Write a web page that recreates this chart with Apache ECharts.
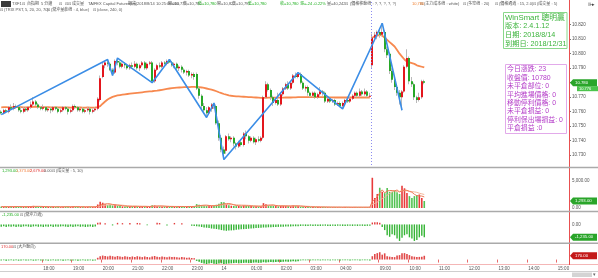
<!DOCTYPE html>
<html><head><meta charset="utf-8">
<script src="https://cdn.jsdelivr.net/npm/echarts@6/dist/echarts.min.js"></script>
<style>html,body{margin:0;padding:0;background:#fff}#c{width:598px;height:278px}</style>
</head><body><div id="c"></div><script>
// ---------------- DATA ----------------
const hourLabels = ['18:00','19:00','20:00','21:00','22:00','23:00','00:00','01:00','02:00','03:00','04:00','09:00','10:00','11:00','12:00','13:00','14:00','15:00'];
// session layout of the 5-minute slots: night 16:35-05:00, day 08:45-15:20
const nightFirst = '16:35', nightSlots = 150, dayFirst = '08:45', daySlots = 80;

// candles: [open, close, low, high] (price in 0.001 units)
const candles = [
[10760,10759,10758,10761],[10759,10761,10758,10762],[10761,10760,10759,10762],[10760,10763,10759,10764],[10763,10762,10761,10765],
[10762,10764,10761,10766],[10764,10763,10762,10765],[10763,10761,10760,10764],[10761,10760,10759,10763],[10760,10762,10759,10763],
[10762,10761,10760,10763],[10761,10763,10760,10764],[10763,10765,10762,10767],[10765,10767,10764,10770],[10767,10765,10764,10768],
[10765,10763,10762,10766],[10763,10762,10761,10764],[10762,10763,10761,10765],[10763,10761,10760,10764],[10761,10762,10760,10763],
[10762,10761,10759,10763],[10761,10763,10760,10764],[10763,10762,10761,10764],[10762,10760,10759,10763],[10760,10761,10759,10762],
[10761,10763,10760,10764],[10763,10762,10761,10764],[10762,10760,10758,10763],[10760,10761,10759,10762],[10761,10764,10760,10765],
[10764,10763,10762,10765],[10763,10761,10760,10764],[10761,10762,10760,10763],[10762,10760,10759,10763],[10760,10761,10759,10762],
[10761,10762,10760,10763],[10762,10760,10758,10763],[10760,10761,10759,10762],[10761,10762,10760,10763],[10762,10769,10761,10770],
[10768,10783,10767,10785],[10784,10792,10783,10794],[10792,10794,10790,10795],[10794,10793,10791,10796],[10793,10789,10788,10794],
[10789,10787,10785,10790],[10787,10795,10786,10796],[10795,10794,10792,10797],[10794,10791,10790,10795],[10791,10793,10790,10794],
[10793,10792,10790,10794],[10792,10790,10789,10793],[10790,10792,10789,10793],[10792,10791,10790,10794],[10791,10793,10790,10795],
[10793,10790,10789,10794],[10790,10792,10788,10793],[10792,10794,10791,10795],[10794,10790,10789,10795],[10790,10793,10789,10794],
[10793,10794,10792,10795],[10794,10781,10780,10795],[10781,10789,10780,10790],[10789,10792,10788,10793],[10792,10791,10790,10794],
[10791,10794,10790,10795],[10794,10793,10791,10795],[10793,10795,10792,10796],[10795,10794,10793,10796],[10794,10792,10791,10795],
[10792,10793,10790,10794],[10793,10790,10789,10794],[10790,10791,10788,10792],[10791,10789,10787,10792],[10789,10787,10786,10790],
[10787,10788,10785,10789],[10788,10785,10784,10789],[10785,10786,10783,10787],[10786,10784,10782,10787],[10786,10776,10775,10787],
[10776,10771,10769,10777],[10771,10764,10762,10772],[10764,10761,10759,10766],[10761,10759,10756,10763],[10759,10763,10758,10764],
[10762,10765,10760,10766],[10765,10764,10762,10766],[10764,10752,10751,10765],[10752,10742,10740,10754],[10742,10734,10732,10744],
[10734,10731,10727,10736],[10733,10743,10731,10744],[10743,10741,10740,10745],[10741,10742,10739,10743],[10742,10738,10736,10743],
[10738,10736,10734,10739],[10736,10739,10735,10740],[10739,10737,10736,10741],[10737,10745,10736,10746],[10745,10743,10741,10747],
[10743,10740,10738,10744],[10740,10742,10739,10743],[10742,10739,10738,10743],[10739,10741,10737,10742],[10741,10740,10739,10743],
[10740,10742,10739,10743],[10742,10770,10741,10771],[10770,10779,10769,10781],[10779,10775,10774,10780],[10775,10770,10768,10776],
[10770,10766,10764,10771],[10766,10768,10765,10769],[10768,10765,10764,10773],[10765,10772,10764,10773],[10772,10776,10771,10777],
[10776,10779,10775,10780],[10779,10776,10775,10781],[10776,10780,10775,10781],[10780,10785,10779,10786],[10785,10784,10783,10787],
[10784,10786,10783,10787],[10786,10780,10779,10787],[10780,10776,10775,10781],[10776,10777,10774,10778],[10777,10773,10771,10778],
[10773,10771,10770,10774],[10771,10773,10770,10774],[10773,10770,10769,10774],[10770,10772,10769,10773],[10772,10774,10771,10777],
[10774,10773,10771,10775],[10773,10767,10766,10774],[10767,10769,10766,10770],[10769,10767,10766,10770],[10767,10768,10766,10769],
[10768,10765,10764,10769],[10765,10766,10764,10767],[10766,10764,10763,10767],[10764,10766,10762,10767],[10766,10768,10765,10769],
[10768,10767,10766,10769],[10767,10769,10766,10770],[10769,10771,10768,10772],[10771,10773,10770,10774],[10773,10771,10770,10774],
[10771,10774,10770,10776],[10774,10772,10771,10775],[10772,10774,10771,10776],[10774,10771,10770,10775],[10771,10771,10770,10773],
[10792,10811,10790,10814],[10811,10813,10809,10815],[10813,10815,10810,10816],[10815,10813,10811,10817],[10813,10815,10812,10821],
[10815,10803,10801,10816],[10803,10799,10797,10805],[10800,10788,10786,10801],[10788,10782,10780,10790],[10782,10777,10775,10784],
[10777,10773,10771,10779],[10773,10770,10765,10775],[10770,10774,10761,10775],[10774,10791,10773,10792],[10791,10797,10790,10803],
[10797,10781,10779,10798],[10781,10779,10777,10784],[10779,10770,10768,10780],[10770,10768,10766,10771],[10768,10770,10767,10773],
[10770,10781,10769,10782],[10781,10780,10779,10782]
];
// session average price line (night session, then day session)
const maNight = [
10763.0,10763.1,10763.1,10763.0,10763.0,10763.1,10763.2,10763.2,10763.1,10763.0,
10763.0,10763.1,10763.2,10763.4,10763.5,10763.4,10763.3,10763.2,10763.1,10763.1,
10763.0,10763.0,10763.1,10763.0,10762.9,10762.9,10763.0,10762.9,10762.8,10762.9,
10763.0,10763.0,10762.9,10762.8,10762.8,10762.9,10762.8,10762.8,10762.9,10763.1,
10763.8,10765.5,10767.0,10768.4,10769.4,10770.2,10770.8,10771.2,10771.5,10771.8,
10772.0,10772.2,10772.4,10772.6,10772.8,10773.0,10773.2,10773.4,10773.6,10773.8,
10774.0,10774.1,10774.3,10774.5,10774.8,10775.1,10775.4,10775.7,10776.0,10776.2,
10776.4,10776.6,10776.7,10776.8,10776.9,10777.0,10777.0,10777.1,10777.1,10777.0,
10776.9,10776.7,10776.4,10776.0,10775.6,10775.2,10774.7,10774.1,10773.4,10772.8,
10772.2,10771.7,10771.3,10771.0,10770.8,10770.6,10770.5,10770.4,10770.3,10770.2,
10770.1,10770.0,10769.9,10769.8,10769.7,10769.6,10769.6,10769.6,10769.7,10769.7,
10769.7,10769.7,10769.7,10769.7,10769.7,10769.8,10769.8,10769.8,10769.9,10769.9,
10770.0,10770.0,10770.0,10770.0,10770.0,10770.0,10770.0,10770.0,10770.0,10770.0,
10770.0,10770.0,10769.9,10769.9,10769.9,10769.8,10769.8,10769.8,10769.8,10769.8,
10769.8,10769.8,10769.8,10769.8,10769.8,10769.8,10769.8,10769.8,10769.8,10769.8
];
const maDay = [10811,10812,10812.5,10813,10812.5,10811,10809.5,10808,10806.5,10805,10802.5,10800,10798,10796,10794.5,10794,10793.5,10793,10792,10791.5,10791,10790.5];
// zig-zag pivots
const zigIdx = [0,43,45,47,61,68,83,86,90,120,138,154,162];
const zigVal = [10758,10796,10785,10797,10780,10796,10756,10766,10727,10787,10762,10821,10761];
// volume
const volume = [
250,180,300,220,350,200,280,240,190,260, 230,310,270,400,320,210,190,250,230,180,
220,260,200,280,170,240,290,210,230,330, 250,200,190,240,180,220,260,200,210,650,
1150,980,700,520,600,480,640,430,350,300, 280,330,260,300,350,280,240,300,320,280,
250,520,480,350,300,260,310,280,240,230, 260,280,300,240,260,280,300,260,290,720,
600,520,450,380,400,420,380,600,800,1100, 1050,700,500,420,380,350,400,330,480,420,
380,350,300,330,280,300,900,700,460,420, 380,350,320,400,420,380,360,330,450,420,
380,250,220,200,180,170,200,160,180,190, 170,180,150,160,140,170,150,160,140,170,
150,140,160,150,170,130,150,140,160,120,
5600,1850,2600,3750,3000,2750,3700,3000,3000,3300, 2900,2600,4100,3650,2800,2200,1850,2200,2400,2500, 1850,1293
];
const volMa5 = [
260,255,250,245,260,270,265,270,260,255, 250,260,275,290,300,300,290,280,260,240,
230,230,225,230,230,225,240,240,230,250, 260,250,240,230,220,215,220,225,215,330,
500,690,740,800,760,660,590,540,480,420, 360,320,300,290,300,300,290,290,300,290,
280,320,360,370,380,370,340,300,280,270, 260,260,270,270,270,270,280,280,280,370,
430,480,520,530,470,430,410,440,520,660, 770,810,830,750,600,470,410,380,390,400,
400,380,350,340,330,310,420,500,540,560, 580,470,390,380,380,380,370,370,390,390,
390,360,320,290,250,210,200,190,180,180, 180,180,170,170,160,160,160,160,150,160,
160,150,150,150,150,150,150,150,150,140,
1240,1600,2100,2800,3360,2790,3160,3240,3230,3150, 3340,2960,3180,3330,3270,3070,2920,2540,2290,2230, 2210,2050
];
const volMa10 = [
250,250,248,250,255,258,260,262,260,258, 256,255,258,262,268,272,275,278,276,272,
266,258,250,245,240,238,238,236,235,236, 238,240,240,238,236,232,230,228,226,270,
360,450,500,560,590,580,570,560,550,520, 470,440,400,390,380,360,340,320,310,300,
290,305,320,325,335,340,340,330,320,310, 300,290,290,285,280,280,280,280,285,310,
350,380,400,410,420,440,450,480,510,560, 600,640,660,650,620,600,580,560,540,520,
490,460,420,390,370,360,390,410,430,440, 460,450,440,430,420,410,400,390,380,380,
380,370,350,330,310,290,280,270,260,240, 220,205,195,185,180,175,170,165,165,160,
160,158,155,155,155,152,150,150,150,148,
700,860,1100,1450,1750,2000,2380,2670,2980,3230, 3000,3070,3220,3210,3190,3110,3030,2980,2900,2740, 2630,2500
];
// 當沖力道
const power = [
-220,-180,-250,-200,-230,-190,-260,-210,-240,-200, -180,-220,-250,-200,-190,-230,-210,-240,-200,-220,
-190,-250,-210,-230,-200,-180,-220,-260,-200,-240, -210,-190,-230,-200,-250,-220,-200,-240,-210,150,
180,0,120,0,0,-100,0,150,0,120, 0,0,130,0,0,140,120,0,0,-90,
0,0,0,150,130,0,0,-100,0,0, 140,0,0,110,0,0,0,-120,-150,-180,
-200,-250,-300,-320,-350,-400,-420,-450,-500,-550, -600,-620,-600,-580,-560,-520,-500,-480,-460,-440,
-420,-400,-380,-360,-340,-320,-300,-290,-280,-270, -260,-250,-240,-230,-220,-210,-200,-200,-190,-180,
-170,-150,-140,-160,-150,-130,-150,-140,-160,-150, -140,-130,-150,-160,-140,-150,-130,-140,-150,-160,
-140,-130,-150,-140,-150,-130,-140,-150,-140,-130,
180,220,200,150,-250,-550,-1050,-1200,-950,-1050, -1370,-1600,-1300,-1050,-950,-1250,-1370,-1600,-1500,-1250, -1100,-1235
];
// 大戶動向
const bigPlayer = [
-40,-30,-50,-40,-30,-45,-35,-50,-40,-30, -45,-40,-35,-50,-40,-30,-45,-40,-35,-50,
-40,-30,-45,-40,-35,-50,-40,-30,-45,-40, -35,-50,-40,-30,-45,-40,-35,-50,-40,80,
150,180,160,140,170,150,130,160,140,120, 150,130,110,140,120,150,130,110,140,120,
100,140,160,130,110,140,120,100,130,110, 120,100,90,110,100,80,90,70,60,-60,
-100,-150,-180,-200,-180,-160,-190,-200,-180,-170, -200,-190,-180,-170,-160,-150,-170,-160,-150,-140,
-160,-150,-140,-130,-150,-140,-120,-130,-120,-110, -120,-110,-100,-110,-100,-90,-100,-90,-80,-90,
-80,-40,-30,-35,-30,-40,-30,-35,-30,-40, -30,-35,-30,-40,-30,-35,-30,-40,-30,-35,
-30,-40,-30,-35,-30,-40,-30,-35,-30,-40,
150,250,290,330,220,280,150,130,120,110, 180,200,280,290,250,200,150,130,120,120, 130,170
];

// ---------------- BUILD ----------------
function toMin(s){const [h,m]=s.split(':').map(Number);return h*60+m;}
function fmt(m){m=((m%1440)+1440)%1440;return String(Math.floor(m/60)).padStart(2,'0')+':'+String(m%60).padStart(2,'0');}
const categories=[];
for(let i=0;i<nightSlots;i++)categories.push(fmt(toMin(nightFirst)+5*i));
for(let i=0;i<daySlots;i++)categories.push(fmt(toMin(dayFirst)+5*i));
const hourSet=new Set(hourLabels);
const isHour=(i,v)=>hourSet.has(v);

const FONT='"Liberation Sans","Noto Sans CJK TC",sans-serif';
const RED='#e3161d', GREEN='#27a827', VRED='#e83a3a', VGREEN='#52c252';
const isUp=i=>candles[i][1]>=candles[i][0];

const chart=echarts.init(document.getElementById('c'));
const maNightData=categories.map((_,i)=>i<maNight.length?maNight[i]:null);
const maDayData=categories.map((_,i)=>(i>=nightSlots&&i-nightSlots<maDay.length)?maDay[i-nightSlots]:null);

function renderCandle(params,api){
  const i=api.value(0),o=api.value(1),c=api.value(2),l=api.value(3),h=api.value(4);
  const x=Math.round(api.coord([i,o])[0]);
  const yO=api.coord([i,o])[1],yC=api.coord([i,c])[1],yL=api.coord([i,l])[1],yH=api.coord([i,h])[1];
  const top=Math.min(yO,yC),bh=Math.max(1,Math.abs(yO-yC));
  return {type:'group',children:[
    {type:'rect',shape:{x:x-1,y:yH,width:1,height:Math.max(1,yL-yH)},style:{fill:'#b9b9b9'}},
    {type:'rect',shape:{x:x-1,y:top,width:2,height:bh},style:{fill:c>=o?RED:GREEN}}
  ]};
}
const axLabel={fontSize:4.5,color:'#555',fontFamily:FONT,margin:3};
chart.setOption({
  animation:false,
  grid:[
    {left:0,right:29,top:10.2,height:159.5},
    {left:0,right:29,top:167.5,height:40.5},
    {left:0,right:29,top:212,height:31},
    {left:0,right:29,top:244,height:20}
  ],
  xAxis:[0,1,2,3].map(k=>({
    type:'category',data:categories,gridIndex:k,boundaryGap:true,
    axisLine:{show:false},
    axisTick:{show:k===3,interval:isHour,length:3,lineStyle:{color:'#e86a6a'}},
    axisLabel:Object.assign({show:k===3,interval:isHour,align:'left',formatter:v=>v==='00:00'?'14':v},axLabel),
    splitLine:{show:false}
  })),
  yAxis:[
    {gridIndex:0,position:'right',min:10720,max:10830,interval:10,axisLine:{show:false},
     axisTick:{show:true,length:2,lineStyle:{color:'#777'}},splitLine:{show:false},
     axisLabel:Object.assign({showMinLabel:false,showMaxLabel:false,formatter:v=>(v/1000).toFixed(3)},axLabel)},
    {gridIndex:1,position:'right',min:0,max:7500,interval:2500,axisLine:{show:false},axisTick:{show:false},splitLine:{show:false},
     axisLabel:Object.assign({formatter:v=>v===5000?'5,000.00':(v===0?'0.00':'')},axLabel)},
    {gridIndex:2,position:'right',min:-1800,max:1200,interval:600,axisLine:{show:false},axisTick:{show:false},splitLine:{show:false},
     axisLabel:Object.assign({formatter:v=>v===0?'0.00':''},axLabel)},
    {gridIndex:3,position:'right',min:-200,max:700,interval:100,axisLine:{show:false},axisTick:{show:false},splitLine:{show:false},
     axisLabel:{show:false}}
  ],
  series:[
    {type:'line',xAxisIndex:0,yAxisIndex:0,data:maNightData,symbol:'none',connectNulls:false,lineStyle:{color:'#f7894f',width:1.8},z:2},
    {type:'line',xAxisIndex:0,yAxisIndex:0,data:maDayData,symbol:'none',connectNulls:false,lineStyle:{color:'#f7894f',width:1.8},z:2},
    {type:'custom',xAxisIndex:0,yAxisIndex:0,data:candles.map((c,i)=>[i,c[0],c[1],c[2],c[3]]),renderItem:renderCandle,encode:{x:0,y:[1,2,3,4]},z:3},
    {type:'line',xAxisIndex:0,yAxisIndex:0,data:zigIdx.map((i,k)=>[i,zigVal[k]]),symbol:'none',lineStyle:{color:'#3b8de6',width:1.6},z:4},
    {type:'bar',xAxisIndex:1,yAxisIndex:1,barWidth:1.6,data:volume.map((v,i)=>({value:v,itemStyle:{color:isUp(i)?VRED:VGREEN}}))},
    {type:'line',xAxisIndex:1,yAxisIndex:1,data:volMa10,symbol:'none',lineStyle:{color:'#f3b79a',width:1}},
    {type:'line',xAxisIndex:1,yAxisIndex:1,data:volMa5,symbol:'none',lineStyle:{color:'#ee7a55',width:1}},
    {type:'bar',xAxisIndex:2,yAxisIndex:2,barWidth:1.4,data:power.map(v=>({value:v,itemStyle:{color:v>=0?'#e23a3a':'#35b435'}}))},
    {type:'bar',xAxisIndex:3,yAxisIndex:3,barWidth:1.6,data:bigPlayer.map(v=>({value:v,itemStyle:{color:v>=0?'#e04848':'#35b435'}}))}
  ]
});

// ---------------- OVERLAY GRAPHICS ----------------
const G=[];
function T(x,y,text,fill,size,extra){G.push(Object.assign({type:'text',x:x,y:y,z:100,style:{text:text,fill:fill||'#555',font:(size||4.5)+'px '+FONT,verticalAlign:'middle'}},extra||{}));}
function R(x,y,w,h,fill,stroke){G.push({type:'rect',z:99,shape:{x:x,y:y,width:w,height:h},style:{fill:fill||'none',stroke:stroke||null,lineWidth:1}});}
function L(x1,y1,x2,y2,stroke,w,dash){G.push({type:'line',z:98,shape:{x1:x1,y1:y1,x2:x2,y2:y2},style:{stroke:stroke,lineWidth:w||1,lineDash:dash||null}});}

// separators and frame
R(0,166.8,598,1.5,'#aaaaaa');R(0,210.8,598,1.5,'#aaaaaa');R(0,242.6,598,1.5,'#aaaaaa');
L(0,264.5,598,264.5,'#f4b6b6',1);
L(0,271.5,598,271.5,'#cfcfcf',1);
R(572,272.5,20,4.5,'#d4d4d4');T(593,275,'▾','#666',5);
L(569.5,0,569.5,265,'#e85050',1);
const xd=Math.round((chart.convertToPixel({xAxisIndex:0},categories[nightSlots-1])+chart.convertToPixel({xAxisIndex:0},categories[nightSlots]))/2)+0.5;
L(xd,2,xd,166,'#8c8cf0',1,[1,2]);

// header line 1
R(1,1,10,6,'#3a3a3a');
const GRN='#22b022', GRY='#555';
[[12,'TXF1'],[22,'⊡'],[27,'台指期'],[41,'5 分鐘'],[59,'⊡'],[65,'⊡⊡'],[72,'成交量'],
 [88,'TAIFEX Capital Futures(tm)'],[128,'期貨'],[137,'2018/8/14 10:25:00.000'],[168,'開=10,779'],[183,'高=10,780'],
 [217,'開=10,822'],[232,'高=10,791'],[327,'量=40,242'],[345,'⊡'],[350,'(價格移動線 : ?, ?, ?, ?, ?)'],
 [420,'⊡'],[424,'(主力成本線 : white)'],[463,'⊡'],[467,'(多空線 : 20)'],[495,'⊡'],[499,'(價格通道 : 15, 2.0)'],[533,'⊡'],[537,'(成交量 : 5)']
].forEach(a=>T(a[0],4,a[1],GRY,4));
[[198,'低=10,780'],[248,'低=10,780'],[280,'收=10,780'],[300,'漲=-24 -0.22%']].forEach(a=>T(a[0],4,a[1],GRN,4));
T(412,4,'10,780','#f08030',4);
T(588,5,'⊪▸','#444',5);
// header line 2
[[0,'⊡'],[4,'(TRIX PST, 5, 20, 20, 70)'],[47,'⊡'],[51,'(當沖量能線 : 4, blue)'],[93,'⊡'],[97,'(close, 240, 0)']].forEach(a=>T(a[0],10,a[1],GRY,4));

// panel labels
T(2,171,'1,293.00',GRN,4);T(16,171,'1,373.00','#f08040',4);T(30,171,'2,679.00','#e03030',4);T(44,171,'0.00',GRY,4);T(52,171,'⊡',GRY,4);T(56,171,'(成交量 : 5, 10)',GRY,4);
T(2,215,'-1,235.00',GRN,4);T(20,215,'⊡',GRY,4);T(24,215,'(當沖力道)',GRY,4);
T(1,246.5,'170.00','#e03030',4);T(13,246.5,'⊡',GRY,4);T(17,246.5,'(大戶動向)',GRY,4);

// info boxes
R(503.5,12.5,63.5,36,'#ffffff','#8ad88a');
const WG='#3cb43c';
T(505,17.5,'WinSmart 聰明贏',WG,7.8);
T(505,26.5,'版本: 2.4.1.12',WG,7.2);T(505,35.5,'日期: 2018/8/14',WG,7.2);T(505,44,'到期日: 2018/12/31',WG,7.2);
R(505.5,64.5,61,69,'#ffffff','#e2aaea');
const PC='#b43cc8';
['今日漲跌: 23','收盤價: 10780','未平倉部位: 0','平均進場價格: 0','移動停利價格: 0','未平倉損益: 0','停利保出場損益: 0','平倉損益 :0']
 .forEach((s,k)=>T(507,69.5+k*8.4,s,PC,6.9));

// right side value tags
function tag(y,text,fill){G.push({type:'polygon',z:101,shape:{points:[[570,y],[573,y-3.5],[597,y-3.5],[597,y+3.5],[573,y+3.5]]},style:{fill:fill}});T(575,y,text,'#fff',4.3,{z:102});}
const last=candles.length-1;
const yP=chart.convertToPixel({yAxisIndex:0},candles[last][1]);
R(577,yP+3.5,21,5,'#4cc44c');T(579,yP+6,'10.776','#fff',4,{z:102});
tag(yP,'10.780','#2aa52a');
tag(chart.convertToPixel({yAxisIndex:1},volume[last]),'1,293.00','#2aa52a');
tag(chart.convertToPixel({yAxisIndex:2},power[last]),'-1,235.00','#2aa52a');
tag(chart.convertToPixel({yAxisIndex:3},bigPlayer[last]),'170.00','#c41a1a');

chart.setOption({graphic:G});
</script></body></html>
